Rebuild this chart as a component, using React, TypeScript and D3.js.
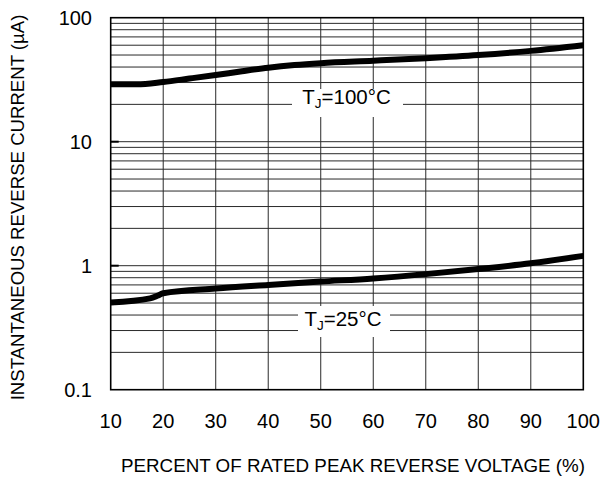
import React from "react";
import * as d3 from "d3";

const xTicks = [10, 20, 30, 40, 50, 60, 70, 80, 90, 100];
const yTicks = [0.1, 1, 10, 100];
const yTickLabels = ["0.1", "1", "10", "100"];

const pct100 = [10, 15, 20, 25, 30, 35, 40, 45, 50, 60, 70, 80, 90, 100];
const cur100 = [29, 29, 30.3, 32.3, 34.5, 37, 39.5, 41.5, 43, 45, 47.2, 50, 54, 60];

const pct25 = [10, 17.5, 19, 20, 30, 40, 50, 60, 70, 80, 90, 100];
const cur25 = [0.505, 0.545, 0.575, 0.6, 0.655, 0.7, 0.745, 0.79, 0.855, 0.94, 1.045, 1.2];

const W = 601;
const H = 478;
const L = 110.7, R = 583.3, T = 17.7, B = 389.7;
const FONT = "'Liberation Sans', Arial, Helvetica, sans-serif";

export default function App() {
  const x = d3.scaleLinear().domain([10, 100]).range([L, R]);
  const y = d3.scaleLog().domain([0.1, 100]).range([B, T]);

  const minor: number[] = [];
  [0.1, 1, 10].forEach((d) => {
    for (let k = 2; k <= 9; k++) minor.push(d * k);
  });

  const line = d3
    .line<[number, number]>()
    .x((d) => x(d[0]))
    .y((d) => y(d[1]))
    .curve(d3.curveMonotoneX);

  const d100 = line(pct100.map((p, i) => [p, cur100[i]] as [number, number]));
  const d25 = line(pct25.map((p, i) => [p, cur25[i]] as [number, number]));

  const gridColor = "#2a2a2a";

  return (
    <svg
      width={W}
      height={H}
      style={{ position: "absolute", left: 0, top: 0, background: "#fff" }}
      fontFamily={FONT}
    >
      <rect x={0} y={0} width={W} height={H} fill="#fff" />
      {/* horizontal grid */}
      {minor.concat([1, 10]).map((v, i) => (
        <line
          key={"h" + i}
          x1={L}
          x2={R}
          y1={y(v)}
          y2={y(v)}
          stroke={gridColor}
          strokeWidth={1}
        />
      ))}
      {/* vertical grid */}
      {xTicks.slice(1, -1).map((v) => (
        <line
          key={"v" + v}
          x1={x(v)}
          x2={x(v)}
          y1={T}
          y2={B}
          stroke={gridColor}
          strokeWidth={1}
        />
      ))}
      {/* decade ticks */}
      {[1, 10].map((v) => (
        <line key={"t" + v} x1={L} x2={L + 8} y1={y(v)} y2={y(v)} stroke="#000" strokeWidth={2} />
      ))}
      {/* label boxes */}
      <rect x={292} y={89} width={111} height={28} fill="#fff" />
      <rect x={298} y={306} width={92} height={31} fill="#fff" />
      <text x={346.5} y={104} fontSize={20.5} textAnchor="middle" fill="#000">
        T<tspan fontSize={13.5} dy={4}>J</tspan>
        <tspan dy={-4}>=100°C</tspan>
      </text>
      <text x={343} y={326} fontSize={20.5} textAnchor="middle" fill="#000">
        T<tspan fontSize={13.5} dy={4}>J</tspan>
        <tspan dy={-4}>=25°C</tspan>
      </text>
      {/* frame */}
      <rect x={L} y={T} width={R - L} height={B - T} fill="none" stroke="#000" strokeWidth={1.6} />
      {/* curves */}
      <path d={d100 || ""} fill="none" stroke="#000" strokeWidth={6} />
      <path d={d25 || ""} fill="none" stroke="#000" strokeWidth={6} />
      {/* y tick labels */}
      {yTicks.map((v, i) => (
        <text
          key={"yl" + v}
          x={92}
          y={y(v)}
          dy="0.35em"
          fontSize={20}
          textAnchor="end"
          fill="#000"
        >
          {yTickLabels[i]}
        </text>
      ))}
      {/* x tick labels */}
      {xTicks.map((v) => (
        <text key={"xl" + v} x={x(v)} y={428} fontSize={20} textAnchor="middle" fill="#000">
          {v}
        </text>
      ))}
      <text x={(L + R) / 2 + 6} y={471.5} fontSize={18.8} textAnchor="middle" fill="#000">
        PERCENT OF RATED PEAK REVERSE VOLTAGE (%)
      </text>
      <text
        transform={`translate(23.5, ${(18 + 397) / 2}) rotate(-90)`}
        fontSize={18.6}
        textAnchor="middle"
        fill="#000"
      >
        INSTANTANEOUS REVERSE CURRENT (µA)
      </text>
    </svg>
  );
}
